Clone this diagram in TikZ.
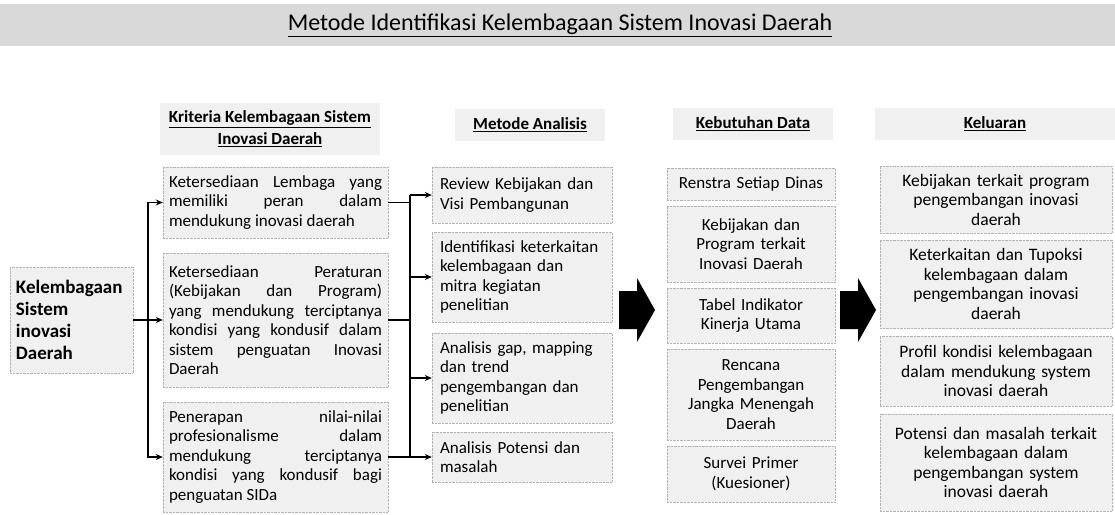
\documentclass[tikz,border=0pt]{standalone}
\usepackage{fontspec}
\setmainfont{Carlito}
\usetikzlibrary{arrows.meta}
\newcommand{\jbaris}[1]{\makebox[\hsize][s]{\spaceskip=0pt\xspaceskip=0pt #1}}

\begin{document}
\begin{tikzpicture}[x=1pt,y=-1pt,
  teks/.style={font=\fontsize{17}{19.5}\selectfont},
  kotak/.style={teks, draw=gray!60, densely dotted, fill=gray!12, inner xsep=6pt, inner ysep=3pt},
  kriteria/.style={kotak, text width=213pt, align=justify},
  metode/.style={kotak, text width=164pt, inner xsep=8pt, align=left},
  data/.style={kotak, text width=156pt, align=center},
  luaran/.style={kotak, font=\fontsize{17.5}{19.5}\selectfont, text width=220pt, align=center},
  kepala/.style={fill=gray!12, font=\bfseries\fontsize{17}{22}\selectfont, align=center},
  garis/.style={line width=1.3pt},
  panah/.style={garis, -{Stealth[length=7pt,width=6pt]}}]
  \useasboundingbox (0,0) rectangle (1115,514);
  \fill[gray!30] (0,4) rectangle (1115,46);
  \node[font=\fontsize{24}{27}\selectfont] (judul) at (560,25)
    {\underline{Metode Identifikasi Kelembagaan Sistem Inovasi Daerah}};

  \node[kepala, minimum width=220pt, minimum height=52pt] (hk) at (270,129)
    {\underline{Kriteria Kelembagaan Sistem}\\\underline{Inovasi Daerah}};
  \node[kepala, minimum width=150pt, minimum height=32pt] (hm) at (530,125) {\underline{Metode Analisis}};
  \node[kepala, minimum width=160pt, minimum height=32pt] (hd) at (753,124) {\underline{Kebutuhan Data}};
  \node[kepala, minimum width=240pt, minimum height=32pt] (hl) at (995,124) {\underline{Keluaran}};

  \node[kotak, font=\bfseries\fontsize{19}{22}\selectfont, text width=111pt, inner xsep=6pt,
    align=left, minimum height=106pt] (lem) at (71.5,320)
    {Kelembagaan\\Sistem\\inovasi\\Daerah};

  \node[kriteria, minimum height=71pt] (k1) at (275.5,202.5)
    {\jbaris{Ketersediaan Lembaga yang}\\\jbaris{memiliki peran dalam}\\mendukung inovasi daerah};
  \node[kriteria, minimum height=134pt] (k2) at (275.5,320)
    {\jbaris{Ketersediaan Peraturan}\\\jbaris{(Kebijakan dan Program)}\\\jbaris{yang mendukung terciptanya}\\
     \jbaris{kondisi yang kondusif dalam}\\\jbaris{sistem penguatan Inovasi}\\Daerah};
  \node[kriteria, minimum height=110pt] (k3) at (275.5,457)
    {\jbaris{Penerapan nilai-nilai}\\\jbaris{profesionalisme dalam}\\\jbaris{mendukung terciptanya}\\
     \jbaris{kondisi yang kondusif bagi}\\penguatan SIDa};

  \node[metode, minimum height=56pt] (m1) at (522,195) {Review Kebijakan dan\\Visi Pembangunan};
  \node[metode, minimum height=90pt] (m2) at (522,277)
    {Identifikasi keterkaitan\\kelembagaan dan\\mitra kegiatan\\penelitian};
  \node[metode, minimum height=90pt] (m3) at (522,378)
    {Analisis gap, mapping\\dan trend\\pengembangan dan\\penelitian};
  \node[metode, minimum height=50pt] (m4) at (522,457) {Analisis Potensi dan\\masalah};

  \node[data, minimum height=32pt] (d1) at (751,184) {Renstra Setiap Dinas};
  \node[data, minimum height=76pt] (d2) at (751,244) {Kebijakan dan\\Program terkait\\Inovasi Daerah};
  \node[data, minimum height=55pt] (d3) at (751,315.5) {Tabel Indikator\\Kinerja Utama};
  \node[data, minimum height=91pt] (d4) at (751,394.5) {Rencana\\Pengembangan\\Jangka Menengah\\Daerah};
  \node[data, minimum height=56pt] (d5) at (751,474) {Survei Primer\\(Kuesioner)};

  \node[luaran, minimum height=67pt] (l1) at (996,199.5)
    {Kebijakan terkait program\\pengembangan inovasi\\daerah};
  \node[luaran, minimum height=88pt] (l2) at (996,284)
    {Keterkaitan dan Tupoksi\\kelembagaan dalam\\pengembangan inovasi\\daerah};
  \node[luaran, minimum height=70pt] (l3) at (996,371)
    {Profil kondisi kelembagaan\\dalam mendukung system\\inovasi daerah};
  \node[luaran, minimum height=97pt] (l4) at (996,462.5)
    {Potensi dan masalah terkait\\kelembagaan dalam\\pengembangan system\\inovasi daerah};

  \coordinate (ls) at (148,320);
  \coordinate (rs) at (410,320);
  \draw[panah] (lem.east) -- (k2.west);
  \draw[panah] (ls) |- (k1.west);
  \draw[panah] (ls) |- (k3.west);
  \foreach \k in {k1,k2,k3} \draw[garis] (\k.east) -- (\k.east -| rs);
  \draw[garis] (rs |- m1.west) -- (rs |- k3.east);
  \foreach \m in {m1,m2,m3,m4} \draw[panah] (rs |- \m.west) -- (\m.west);

  \foreach \x in {619,840}
    \fill (\x,291) -- ++(18,0) -- ++(0,-13) -- ++(18,32) -- ++(-18,32) -- ++(0,-13) -- ++(-18,0) -- cycle;
\end{tikzpicture}
\end{document}
